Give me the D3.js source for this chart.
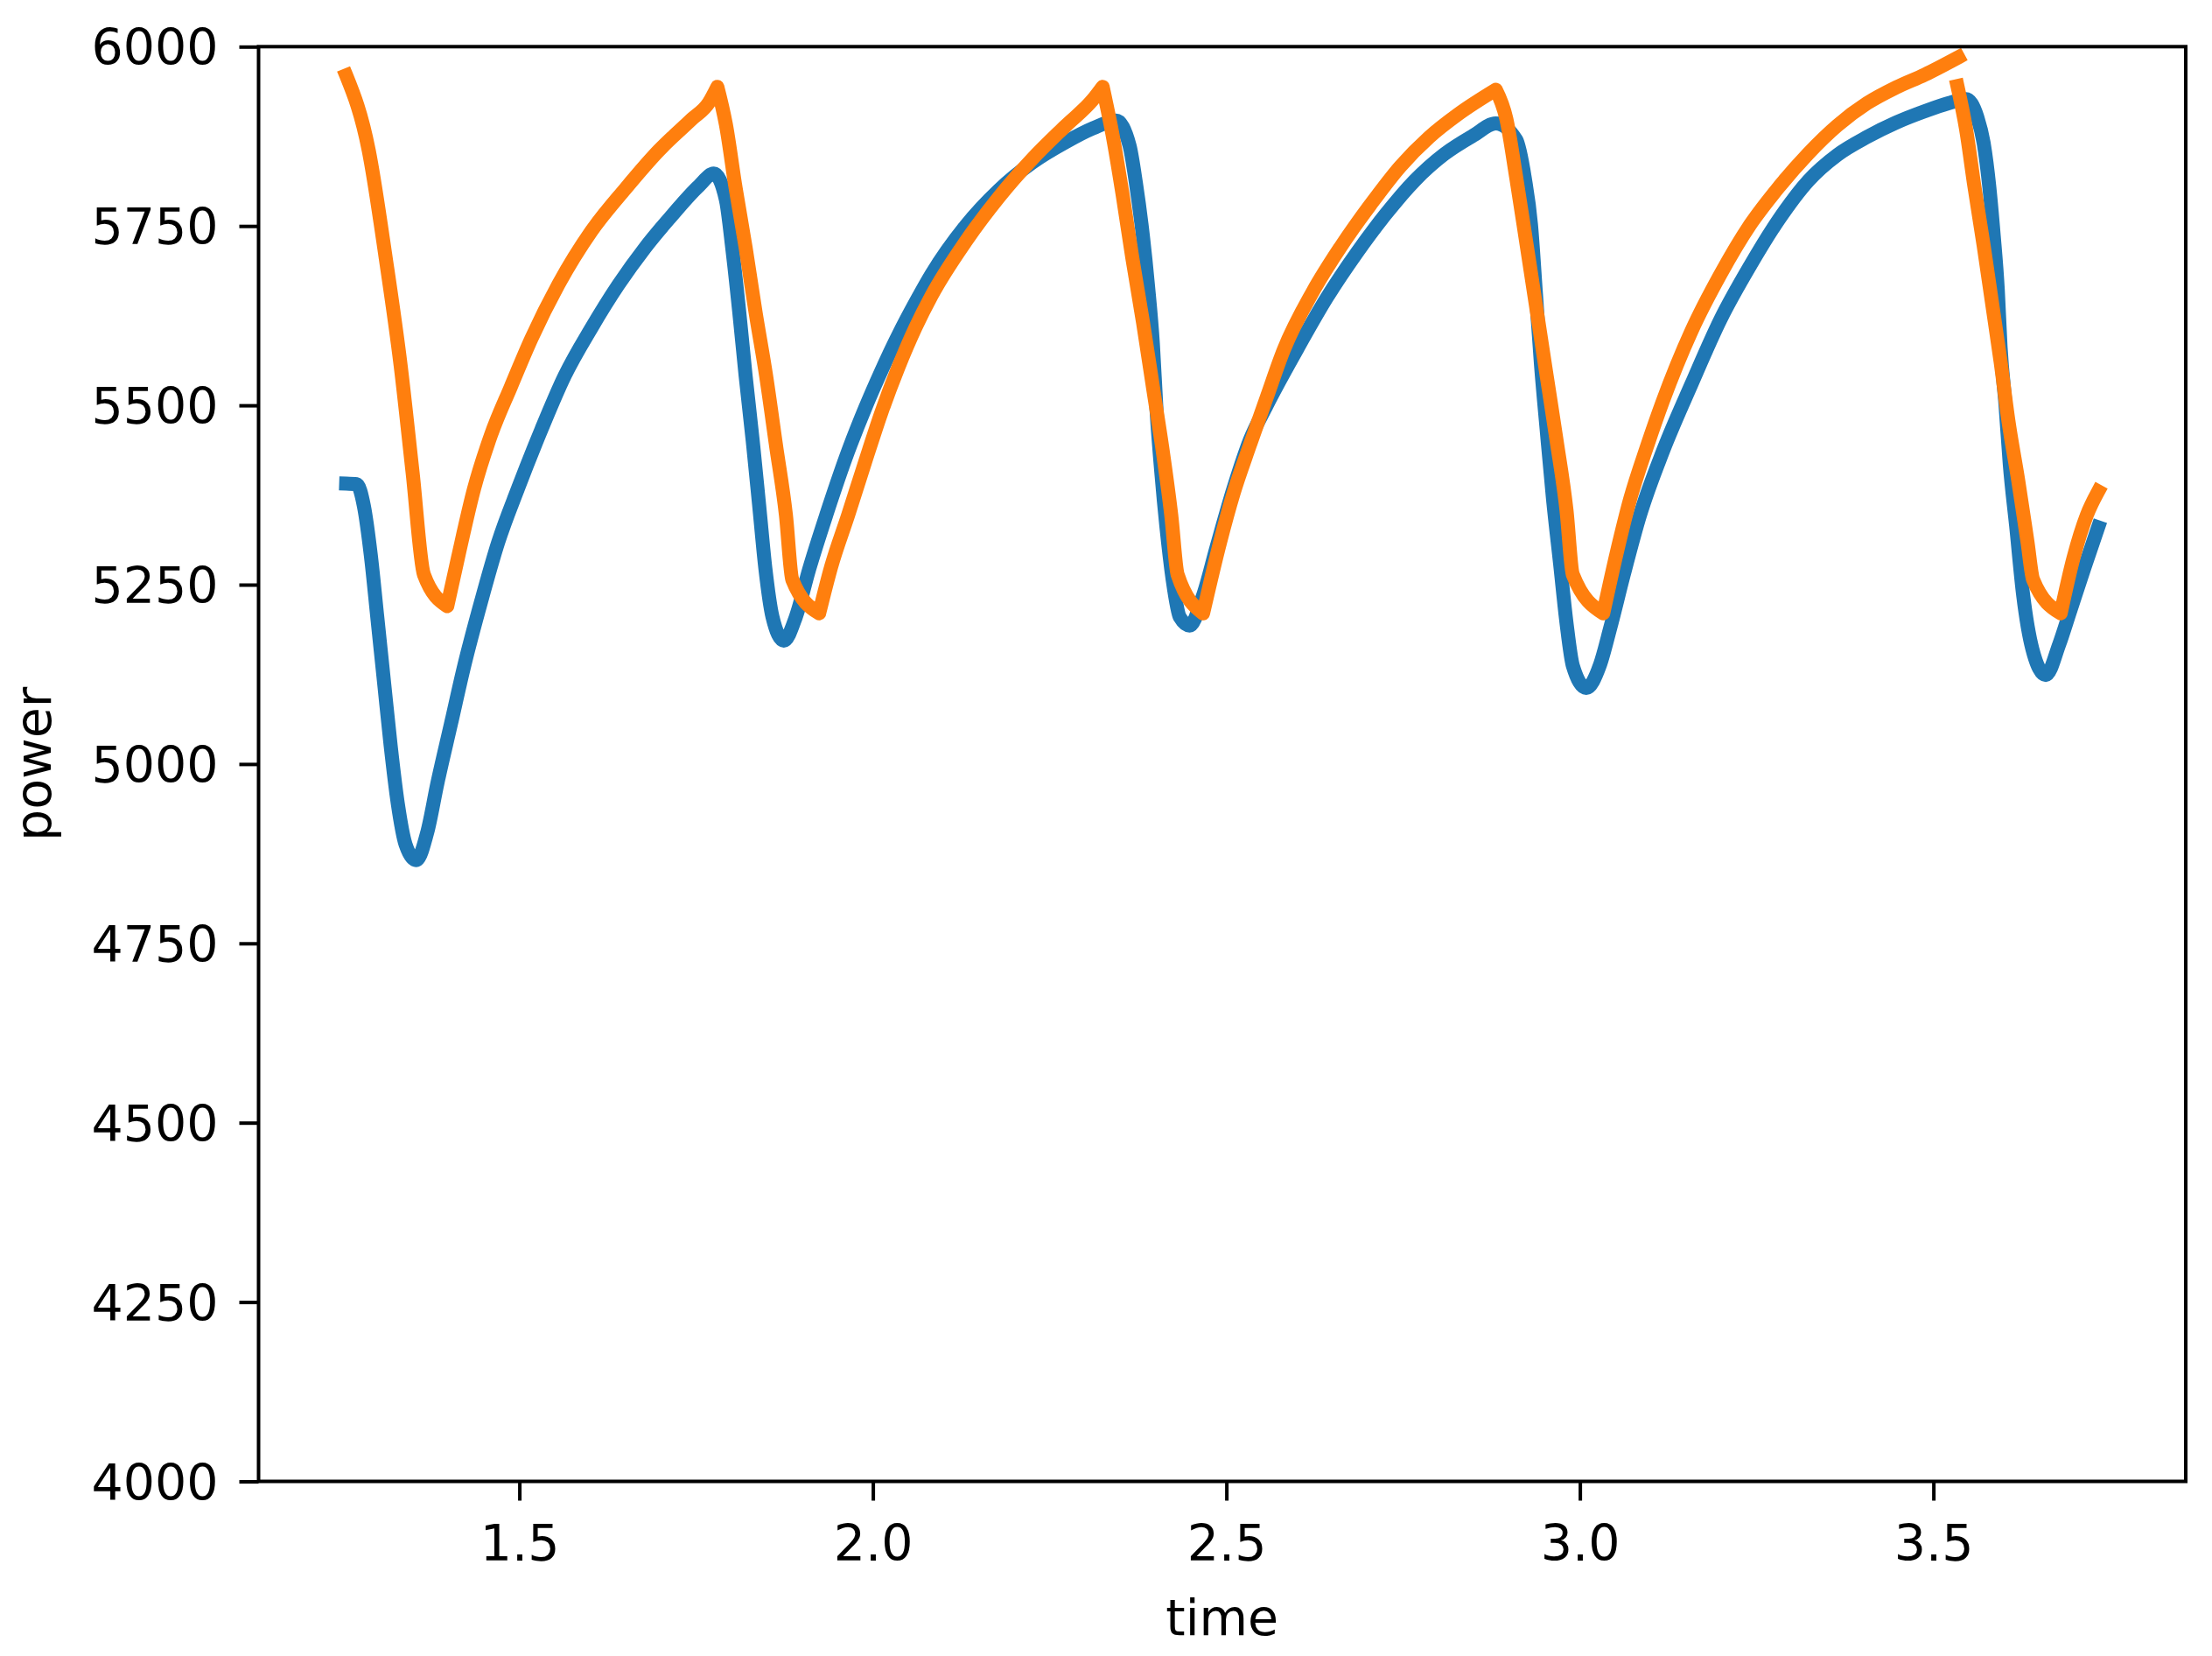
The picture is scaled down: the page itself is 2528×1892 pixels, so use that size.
<!DOCTYPE html>
<html>
<head>
<meta charset="utf-8">
<script src="https://cdn.jsdelivr.net/npm/d3@7"></script>
<style>
  html, body { margin: 0; padding: 0; background: #fff; }
  svg { display: block; }
  text { font-family: "DejaVu Sans", sans-serif; fill: #000; }
</style>
</head>
<body>
<div id="chart"></div>
<script>
// measured series (time, power)
const blueTime = [
  1.255, 1.270, 1.280, 1.290, 1.299, 1.309, 1.318, 1.328, 1.339, 1.354,
  1.370, 1.384, 1.403, 1.422, 1.446, 1.470, 1.498, 1.531, 1.564, 1.602,
  1.640, 1.678, 1.716, 1.754, 1.775, 1.792, 1.801, 1.811, 1.820, 1.830,
  1.839, 1.848, 1.858, 1.874, 1.891, 1.910, 1.934, 1.965, 1.989, 2.012,
  2.036, 2.060, 2.083, 2.131, 2.178, 2.225, 2.273, 2.311, 2.344, 2.363,
  2.372, 2.382, 2.389, 2.396, 2.401, 2.408, 2.415, 2.424, 2.434, 2.448,
  2.467, 2.486, 2.510, 2.533, 2.557, 2.601, 2.642, 2.684, 2.725, 2.766,
  2.808, 2.849, 2.881, 2.910, 2.922, 2.931, 2.938, 2.945, 2.953, 2.962,
  2.972, 2.981, 2.990, 3.009, 3.028, 3.043, 3.062, 3.085, 3.117, 3.158,
  3.199, 3.241, 3.282, 3.323, 3.364, 3.406, 3.447, 3.488, 3.521, 3.546,
  3.562, 3.571, 3.579, 3.585, 3.591, 3.595, 3.602, 3.608, 3.617, 3.627,
  3.640, 3.659, 3.678, 3.693, 3.713, 3.733
];
const bluePower = [
  5391, 5390, 5360, 5290, 5205, 5110, 5025, 4945, 4888, 4866,
  4906, 4973, 5055, 5137, 5227, 5309, 5384, 5466, 5541, 5608,
  5668, 5720, 5765, 5806, 5823, 5787, 5720, 5630, 5541, 5451,
  5362, 5272, 5205, 5172, 5205, 5272, 5347, 5436, 5496, 5548,
  5598, 5643, 5683, 5750, 5800, 5838, 5867, 5886, 5897, 5862,
  5810, 5735, 5668, 5586, 5496, 5406, 5332, 5257, 5205, 5193,
  5235, 5302, 5384, 5451, 5500, 5580, 5650, 5712, 5766, 5813,
  5850, 5876, 5893, 5870, 5817, 5750, 5653, 5556, 5466, 5369,
  5279, 5197, 5137, 5106, 5137, 5190, 5264, 5347, 5435, 5530,
  5620, 5695, 5760, 5813, 5849, 5874, 5894, 5910, 5921, 5927,
  5902, 5866, 5805, 5740, 5662, 5581, 5500, 5418, 5332, 5235,
  5160, 5124, 5167, 5212, 5272, 5330
];

// null marks the break in the orange trace near t = 3.53
const orangeTime = [
  1.255, 1.287, 1.311, 1.332, 1.349, 1.365, 1.398, 1.413,
  1.436, 1.460, 1.488, 1.517, 1.555, 1.602, 1.650, 1.697, 1.744, 1.768,
  1.780, 1.792, 1.806, 1.820, 1.834, 1.849, 1.863, 1.877, 1.886, 1.924,
  1.941, 1.965, 1.989, 2.012, 2.036, 2.060, 2.083, 2.131, 2.178, 2.225,
  2.273, 2.311, 2.325, 2.339, 2.353, 2.367, 2.382, 2.396, 2.410, 2.422,
  2.431, 2.467, 2.491, 2.510, 2.533, 2.557, 2.581, 2.622, 2.663, 2.704,
  2.746, 2.787, 2.828, 2.881, 2.896, 2.910, 2.924, 2.938, 2.953, 2.967,
  2.981, 2.990, 3.033, 3.052, 3.071, 3.095, 3.117, 3.158, 3.199, 3.241,
  3.282, 3.323, 3.364, 3.406, 3.447, 3.488, 3.535, null, 3.534, 3.546,
  3.558, 3.571, 3.583, 3.595, 3.606, 3.620, 3.633, 3.641, 3.680, 3.698,
  3.717, 3.733
];
const orangePower = [
  5960, 5855, 5705, 5556, 5406, 5264, 5220, 5287,
  5384, 5459, 5526, 5593, 5668, 5743, 5802, 5855, 5899, 5922,
  5944, 5892, 5802, 5720, 5630, 5541, 5444, 5347, 5257, 5210,
  5275, 5347, 5421, 5490, 5553, 5608, 5653, 5728, 5790, 5843,
  5890, 5926, 5944, 5877, 5795, 5705, 5616, 5526, 5436, 5347,
  5264, 5210, 5309, 5377, 5444, 5511, 5577, 5658, 5723, 5780,
  5833, 5874, 5906, 5940, 5899, 5817, 5728, 5638, 5541, 5451,
  5354, 5264, 5210, 5294, 5369, 5443, 5505, 5604, 5683, 5752,
  5805, 5851, 5890, 5921, 5943, 5961, 5985, null, 5945, 5886,
  5805, 5723, 5642, 5561, 5479, 5395, 5310, 5257, 5210, 5287,
  5347, 5380
];

const xTicks = [1.5, 2.0, 2.5, 3.0, 3.5];
const yTicks = [4000, 4250, 4500, 4750, 5000, 5250, 5500, 5750, 6000];
const yRange = [4000, 6000];

const width = 2528;
const height = 1892;
const margin = { top: 53.3, right: 30, bottom: 199.5, left: 295.5 };
const fontSize = 57;

const blue = blueTime.map((t, i) => [t, bluePower[i]]);
const orange = orangeTime.map((t, i) => [t, orangePower[i]]);

// matplotlib style 5% padding around the data range
const tExtent = d3.extent(blueTime.concat(orangeTime.filter((t) => t != null)));
const pad = (tExtent[1] - tExtent[0]) * 0.05;

const x = d3
  .scaleLinear()
  .domain([tExtent[0] - pad, tExtent[1] + pad])
  .range([margin.left, width - margin.right]);

const y = d3
  .scaleLinear()
  .domain(yRange)
  .range([height - margin.bottom, margin.top]);

const svg = d3
  .select('#chart')
  .append('svg')
  .attr('width', width)
  .attr('height', height);

const line = d3
  .line()
  .x((d) => x(d[0]))
  .y((d) => y(d[1]))
  .curve(d3.curveMonotoneX);

// split a series at nulls (new subpath) and at turning points (sharp corner)
const pathFor = (points, sharpTurns) => {
  const pieces = [];
  let run = [];
  points.forEach((p) => {
    if (p[0] == null || p[1] == null) {
      if (run.length) pieces.push(run);
      run = [];
      pieces.push(null);
      return;
    }
    if (sharpTurns && run.length >= 2) {
      const a = run[run.length - 2][1];
      const b = run[run.length - 1][1];
      if ((b - a) * (p[1] - b) < 0) {
        pieces.push(run);
        run = [run[run.length - 1]];
      }
    }
    run.push(p);
  });
  if (run.length) pieces.push(run);

  let d = '';
  let continuing = false;
  pieces.forEach((piece) => {
    if (piece == null) {
      continuing = false;
      return;
    }
    const seg = line(piece);
    d += continuing ? seg.replace(/^M[^A-Za-z]*/, '') : seg;
    continuing = true;
  });
  return d;
};

// series
[
  { data: blue, color: '#1f77b4', sharp: false },
  { data: orange, color: '#ff7f0e', sharp: true }
].forEach((s) => {
  svg
    .append('path')
    .attr('d', pathFor(s.data, s.sharp))
    .style('fill', 'none')
    .style('stroke', s.color)
    .style('stroke-width', '16px')
    .style('stroke-linejoin', 'round')
    .style('stroke-linecap', 'square');
});

// axes
const xAxis = svg
  .append('g')
  .attr('transform', `translate(0,${height - margin.bottom})`)
  .call(
    d3
      .axisBottom(x)
      .tickValues(xTicks)
      .tickFormat(d3.format('.1f'))
      .tickSize(22)
      .tickSizeOuter(0)
      .tickPadding(28)
  );

const yAxis = svg
  .append('g')
  .attr('transform', `translate(${margin.left},0)`)
  .call(
    d3
      .axisLeft(y)
      .tickValues(yTicks)
      .tickFormat(d3.format('d'))
      .tickSize(22)
      .tickSizeOuter(0)
      .tickPadding(24)
  );

[xAxis, yAxis].forEach((g) => {
  g.select('.domain').remove();
  g.selectAll('.tick line').style('stroke', '#000').style('stroke-width', '4px');
  g.selectAll('.tick text')
    .style('font-family', '"DejaVu Sans", sans-serif')
    .style('font-size', fontSize + 'px')
    .style('fill', '#000');
});
yAxis.selectAll('.tick text').attr('dy', '0.36em');

// frame
svg
  .append('rect')
  .attr('x', margin.left)
  .attr('y', margin.top)
  .attr('width', width - margin.right - margin.left)
  .attr('height', height - margin.bottom - margin.top)
  .style('fill', 'none')
  .style('stroke', '#000')
  .style('stroke-width', '4px');

// axis labels
svg
  .append('text')
  .attr('x', (margin.left + width - margin.right) / 2)
  .attr('y', 1868)
  .attr('text-anchor', 'middle')
  .style('font-size', fontSize + 'px')
  .text('time');

svg
  .append('text')
  .attr('transform', `translate(58,${(margin.top + height - margin.bottom) / 2}) rotate(-90)`)
  .attr('text-anchor', 'middle')
  .style('font-size', fontSize + 'px')
  .text('power');
</script>
</body>
</html>
